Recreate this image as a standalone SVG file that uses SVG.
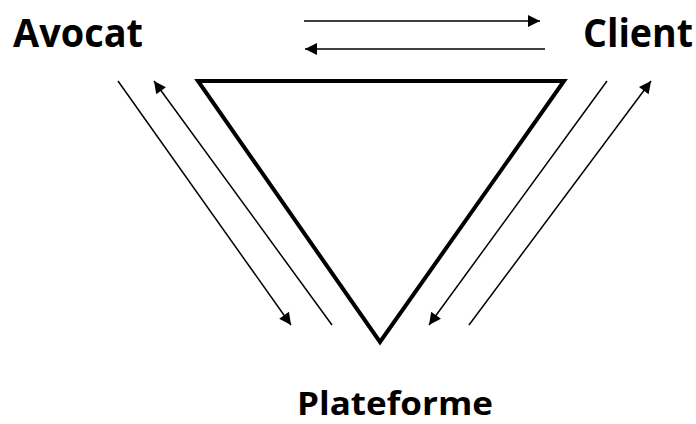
<svg xmlns="http://www.w3.org/2000/svg" width="696" height="424" viewBox="0 0 696 424">
<style>
.lbl{font-family:"Open Sans","Liberation Sans",sans-serif;font-weight:bold;fill:#000}
.ar{stroke:#000;stroke-width:1.5;fill:none;marker-end:url(#ah)}
</style>
<defs>
<marker id="ah" viewBox="0 0 10 10" refX="10" refY="5" markerWidth="15" markerHeight="12" markerUnits="userSpaceOnUse" orient="auto" overflow="visible">
<path d="M0,0 L10,5 L0,10 Z" fill="#000"/>
</marker>
</defs>
<rect width="696" height="424" fill="#fff"/>
<g id="triangle">
<polygon points="198,81 564,81 380,342" fill="none" stroke="#000" stroke-width="4" stroke-linejoin="miter"/>
</g>
<g id="avocat"><text class="lbl" x="13" y="47" font-size="39" textLength="130" lengthAdjust="spacingAndGlyphs">Avocat</text></g>
<g id="client"><text class="lbl" x="583" y="47" font-size="39" textLength="110" lengthAdjust="spacingAndGlyphs">Client</text></g>
<g id="plateforme"><text class="lbl" x="297" y="415" font-size="33" textLength="196" lengthAdjust="spacingAndGlyphs">Plateforme</text></g>
<g id="connectors">
<line class="ar" x1="304" y1="21" x2="540" y2="21"/>
<line class="ar" x1="545" y1="49" x2="305" y2="49"/>
<line class="ar" x1="118" y1="81" x2="291" y2="325"/>
<line class="ar" x1="332" y1="325" x2="154" y2="81"/>
<line class="ar" x1="607" y1="81" x2="429" y2="325"/>
<line class="ar" x1="469" y1="325" x2="651" y2="81"/>
</g>
</svg>
